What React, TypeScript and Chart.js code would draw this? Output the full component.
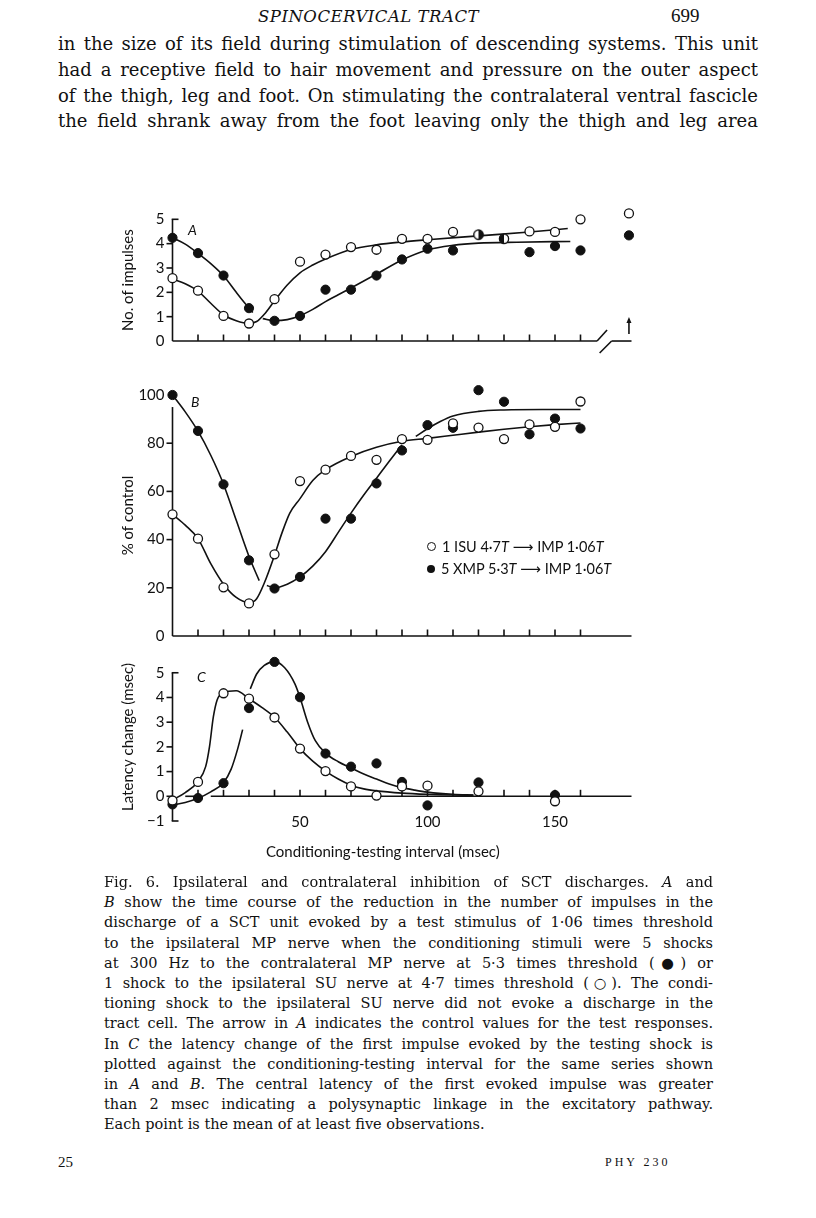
import React, { useEffect, useRef } from "react";
import { Chart, registerables } from "chart.js";

Chart.register(...registerables);

// ---------------- data ----------------
// conditioning-testing intervals (msec)
const intervalsAB = [0, 10, 20, 30, 40, 50, 60, 70, 80, 90, 100, 110, 120, 130, 140, 150, 160];
const controlInterval = [179];
const intervalsC = [0, 10, 20, 30, 40, 50, 60, 70, 80, 90, 100, 120, 150];
const axisTicks = [10, 20, 30, 40, 50, 60, 70, 80, 90, 100, 110, 120, 130, 140, 150, 160];
const cTickLabels = [50, 100, 150];

// Panel A: number of impulses
const impulsesXMP = [4.24, 3.61, 2.69, 1.35, 0.83, 1.03, 2.11, 2.11, 2.69, 3.35, 3.79, 3.72, 4.37, 4.2, 3.65, 3.9, 3.72];
const impulsesISU = [2.58, 2.07, 1.03, 0.72, 1.72, 3.26, 3.55, 3.86, 3.75, 4.2, 4.2, 4.48, 4.37, 4.2, 4.5, 4.48, 5.0];
const impulsesControlXMP = [4.34];
const impulsesControlISU = [5.24];
const overlapHalfRight = [120];
const overlapHalfLeft = [130];

// Panel B: % of control
const percentXMP = [100, 85.1, 62.9, 31.4, 19.7, 24.5, 48.7, 48.7, 63.3, 77.0, 87.5, 86.4, 102, 97.2, 83.7, 90.2, 86.1];
const percentISU = [50.5, 40.4, 20.2, 13.5, 33.9, 64.3, 69.0, 74.7, 73.1, 81.7, 81.4, 88.2, 86.5, 81.7, 87.8, 86.8, 97.3];

// Panel C: latency change (msec)
const latencyXMP = [-0.33, -0.07, 0.53, 3.57, 5.44, 4.01, 1.73, 1.2, 1.33, 0.58, -0.37, 0.56, 0.05];
const latencyISU = [-0.17, 0.58, 4.17, 3.95, 3.19, 1.93, 1.02, 0.4, 0.03, 0.4, 0.43, 0.2, -0.2];

// hand-drawn fitted curves: [interval, value]
const curveAXmpEarly = [[0, 4.24], [5, 3.98], [10, 3.6], [15, 3.18], [20, 2.68], [25, 2.0], [28, 1.6], [31.5, 1.17]];
const curveAXmpLate = [[35.4, 0.92], [40, 0.84], [45, 0.88], [50, 1.04], [55, 1.3], [60, 1.62], [65, 1.9], [70, 2.18], [80, 2.75], [90, 3.33], [100, 3.74], [110, 3.93], [120, 4.02], [135, 4.06], [156, 4.09]];
const curveAIsu = [[0, 2.55], [5, 2.35], [10, 2.05], [15, 1.55], [20, 1.08], [25, 0.83], [30, 0.72], [33, 0.8], [36, 1.1], [40, 1.65], [45, 2.3], [50, 2.8], [55, 3.12], [60, 3.37], [70, 3.76], [80, 3.95], [90, 4.07], [100, 4.16], [120, 4.32], [140, 4.48], [155, 4.62]];

const curveBXmpEarly = [[0, 100], [5, 93], [10, 85], [15, 75], [20, 63], [25, 48], [30, 33], [34, 23]];
const curveBXmpMid = [[37, 21], [40, 20], [45, 21.5], [50, 24.5], [55, 29], [60, 35], [65, 43], [70, 51], [75, 58.5], [80, 65.5], [85, 72.5], [90, 79.3]];
const curveBXmpLate = [[95.4, 82.8], [100, 86], [105, 89], [110, 91.3], [120, 93.2], [130, 93.8], [145, 94], [160, 94]];
const curveBIsu = [[0, 50.5], [5, 46], [10, 40.4], [15, 30], [20, 21.5], [25, 16], [30, 13.8], [33, 15.5], [36, 22], [40, 33.5], [43, 43], [46, 51], [50, 57], [55, 64.5], [60, 69], [70, 74.5], [80, 78.3], [90, 80.8], [100, 82], [110, 83.3], [120, 84.6], [130, 85.8], [140, 86.8], [150, 87.7], [160, 88.4]];

const curveCIsu = [[0, -0.15], [5, 0.15], [10, 0.6], [13, 1.2], [14.5, 2.0], [16, 3.2], [17.5, 3.9], [20, 4.2], [25, 4.27], [30, 3.95], [35, 3.6], [40, 3.2], [45, 2.6], [50, 1.93], [55, 1.42], [60, 1.02], [65, 0.7], [70, 0.45], [75, 0.3], [80, 0.22], [90, 0.13], [100, 0.08], [110, 0.05], [118, 0.04]];
const curveCXmpEarly = [[0, -0.35], [5, -0.25], [10, -0.08], [15, 0.18], [20, 0.55], [23, 1.1], [25.5, 1.9], [27.5, 2.7]];
const curveCXmpLate = [[30.5, 4.35], [33, 4.95], [36, 5.3], [40, 5.45], [44, 5.2], [48, 4.55], [50, 4.0], [53, 3.0], [56, 2.25], [60, 1.75], [65, 1.4], [70, 1.15], [75, 0.9], [80, 0.7], [85, 0.5], [90, 0.35], [95, 0.25], [100, 0.17], [110, 0.08], [118, 0.05]];

// ---------------- styling ----------------
const INK = "#111111";
const SANS = "Lato, 'Open Sans', sans-serif";
const SERIF = "'Liberation Serif', 'DejaVu Serif', serif";
const WIDE_SERIF = "'DejaVu Serif', 'Liberation Serif', serif";
const ORIGIN_X = 172.5;
const PX_PER_MS = 2.55;
const PAGE_W = 816;

Chart.defaults.font.family = SANS;
Chart.defaults.color = INK;

const toXY = (xs: number[], ys: number[]) => xs.map((x, i) => ({ x, y: ys[i] }));
const pairs = (p: number[][]) => p.map(([x, y]) => ({ x, y }));

const halfCache: Record<string, HTMLCanvasElement> = {};
function halfDot(side: "left" | "right") {
  if (halfCache[side]) return halfCache[side];
  const c = document.createElement("canvas");
  c.width = 12;
  c.height = 12;
  const g = c.getContext("2d")!;
  g.beginPath();
  g.arc(6, 6, 4.6, 0, Math.PI * 2);
  g.fillStyle = "#fff";
  g.fill();
  g.beginPath();
  if (side === "right") g.arc(6, 6, 4.6, -Math.PI / 2, Math.PI / 2);
  else g.arc(6, 6, 4.6, Math.PI / 2, (3 * Math.PI) / 2);
  g.closePath();
  g.fillStyle = INK;
  g.fill();
  g.beginPath();
  g.arc(6, 6, 4.6, 0, Math.PI * 2);
  g.lineWidth = 1.3;
  g.strokeStyle = INK;
  g.stroke();
  halfCache[side] = c;
  return c;
}

const openPts = (data: any[], extra: any = {}) => ({
  type: "scatter",
  data,
  order: 0,
  showLine: false,
  pointRadius: 4.5,
  pointBackgroundColor: "#fff",
  pointBorderColor: INK,
  pointBorderWidth: 1.3,
  clip: false,
  ...extra,
});
const filledPts = (data: any[]) => ({
  type: "scatter",
  data,
  order: 1,
  showLine: false,
  pointRadius: 4.6,
  pointBackgroundColor: INK,
  pointBorderColor: INK,
  pointBorderWidth: 1,
  clip: false,
});
const curve = (data: any[]) => ({
  type: "line",
  data,
  order: 2,
  borderColor: INK,
  borderWidth: 1.6,
  pointRadius: 0,
  cubicInterpolationMode: "monotone",
  fill: false,
  clip: false,
});

// axes drawn in the style of the printed figure, through the chart's own scales
const paperAxes = {
  id: "paperAxes",
  beforeDatasetsDraw(chart: any, _a: any, o: any) {
    if (!o || !o.yLine) return;
    const { ctx } = chart;
    const X = (v: number) => chart.scales.x.getPixelForValue(v);
    const Y = (v: number) => chart.scales.y.getPixelForValue(v);
    const seg = (x1: number, y1: number, x2: number, y2: number) => {
      ctx.beginPath();
      ctx.moveTo(x1, y1);
      ctx.lineTo(x2, y2);
      ctx.stroke();
    };
    ctx.save();
    ctx.strokeStyle = INK;
    ctx.fillStyle = INK;
    ctx.lineWidth = 1.6;
    const x0 = X(0);
    const y0 = Y(0);
    seg(x0, Y(o.yLine[0]), x0, Y(o.yLine[1]));
    (o.leftTicks || []).forEach((v: number) => seg(x0 - 6, Y(v), x0, Y(v)));
    (o.brackets || []).forEach((v: number) => seg(x0 - 0.8, Y(v), x0 + 6, Y(v)));
    (o.xSegments || []).forEach(([a, b]: number[]) => seg(X(a), y0, X(b), y0));
    (o.xTicks || []).forEach((v: number) => seg(X(v), y0, X(v), y0 - 6.5));
    if (o.breakFrom != null) {
      const bx = X(o.breakFrom);
      const ax = X(o.breakTo);
      seg(bx, y0, bx + 10, y0 - 11);
      seg(ax - 12, y0 + 12, ax, y0);
    }
    if (o.arrowAt != null) {
      const ax = X(o.arrowAt);
      seg(ax, y0 - 7, ax, y0 - 20);
      ctx.beginPath();
      ctx.moveTo(ax, y0 - 24);
      ctx.lineTo(ax - 2.5, y0 - 18);
      ctx.lineTo(ax + 2.5, y0 - 18);
      ctx.closePath();
      ctx.fill();
    }
    ctx.restore();
  },
};
Chart.register(paperAxes as any);

type Spec = {
  top: number; // canvas top on the page
  height: number; // canvas height
  zeroPx: number; // page y of value 0
  unitPx: number; // px per unit of y
  xMax: number;
  yMin: number;
  yMax: number;
  yStep: number;
  yTitle: string;
  datasets: any[];
  axes: any;
  xLabels?: number[];
  xTitle?: string;
};

function buildConfig(s: Spec): any {
  const areaRight = ORIGIN_X + s.xMax * PX_PER_MS;
  const areaTop = s.zeroPx - s.yMax * s.unitPx;
  const areaBottom = s.zeroPx - s.yMin * s.unitPx;
  const xScaleH = s.xLabels ? s.top + s.height - areaBottom : 0;
  return {
    type: "scatter",
    data: { datasets: s.datasets },
    options: {
      responsive: false,
      animation: false,
      events: [],
      layout: {
        padding: {
          left: 0,
          right: PAGE_W - areaRight,
          top: areaTop - s.top,
          bottom: s.xLabels ? 0 : s.top + s.height - areaBottom,
        },
      },
      plugins: {
        legend: { display: false },
        tooltip: { enabled: false },
        paperAxes: s.axes,
      },
      scales: {
        x: {
          type: "linear",
          min: 0,
          max: s.xMax,
          display: !!s.xLabels,
          afterFit: (sc: any) => {
            sc.height = xScaleH;
          },
          afterBuildTicks: (sc: any) => {
            if (s.xLabels) sc.ticks = s.xLabels.map((v) => ({ value: v }));
          },
          grid: { display: false, drawTicks: false },
          border: { display: false },
          ticks: { mirror: true, padding: -10, autoSkip: false, maxRotation: 0, font: { size: 15 }, color: INK },
          title: {
            display: !!s.xTitle,
            text: s.xTitle || "",
            color: INK,
            font: { size: 15 },
            padding: { top: 0, bottom: 9 },
          },
        },
        y: {
          type: "linear",
          min: s.yMin,
          max: s.yMax,
          afterFit: (sc: any) => {
            sc.width = ORIGIN_X;
          },
          grid: { display: false, drawTicks: false },
          border: { display: false },
          ticks: {
            stepSize: s.yStep,
            includeBounds: false,
            padding: 8,
            font: { size: 15 },
            color: INK,
            callback: (v: number) => (v < 0 ? "\u2212" + Math.abs(v) : String(v)),
          },
          title: {
            display: true,
            text: s.yTitle,
            color: INK,
            font: { size: 15 },
            padding: { top: 119, bottom: 0 },
          },
        },
      },
    },
  };
}

const panelA: Spec = {
  top: 195,
  height: 175,
  zeroPx: 341,
  unitPx: 24.4,
  xMax: 180,
  yMin: -0.3,
  yMax: 5.3,
  yStep: 1,
  yTitle: "No. of impulses",
  axes: {
    yLine: [0, 5],
    leftTicks: [1, 2, 3, 4],
    brackets: [5],
    xSegments: [[0, 166.5], [172.2, 180]],
    xTicks: axisTicks,
    breakFrom: 166.5,
    breakTo: 172.2,
    arrowAt: controlInterval[0],
  },
  datasets: [
    openPts(toXY(intervalsAB, impulsesISU), {
      pointStyle: (c: any) =>
        c.raw && overlapHalfRight.includes(c.raw.x)
          ? halfDot("right")
          : c.raw && overlapHalfLeft.includes(c.raw.x)
          ? halfDot("left")
          : "circle",
    }),
    openPts(toXY(controlInterval, impulsesControlISU)),
    filledPts(toXY(intervalsAB, impulsesXMP)),
    filledPts(toXY(controlInterval, impulsesControlXMP)),
    curve(pairs(curveAXmpEarly)),
    curve(pairs(curveAXmpLate)),
    curve(pairs(curveAIsu)),
  ],
};

const panelB: Spec = {
  top: 378,
  height: 275,
  zeroPx: 641,
  unitPx: 2.47,
  xMax: 180,
  yMin: 0,
  yMax: 100,
  yStep: 20,
  yTitle: "% of control",
  axes: {
    yLine: [0, 95],
    leftTicks: [20, 40, 60, 80],
    brackets: [],
    xSegments: [[0, 180]],
    xTicks: axisTicks,
  },
  datasets: [
    openPts(toXY(intervalsAB, percentISU)),
    filledPts(toXY(intervalsAB, percentXMP)),
    curve(pairs(curveBXmpEarly)),
    curve(pairs(curveBXmpMid)),
    curve(pairs(curveBXmpLate)),
    curve(pairs(curveBIsu)),
  ],
};

const panelC: Spec = {
  top: 636,
  height: 234,
  zeroPx: 795.5,
  unitPx: 25.5,
  xMax: 165,
  yMin: -1,
  yMax: 5.8,
  yStep: 1,
  yTitle: "Latency change (msec)",
  xLabels: cTickLabels,
  xTitle: "Conditioning-testing interval (msec)",
  axes: {
    yLine: [-1, 5],
    leftTicks: [0, 1, 2, 3, 4],
    brackets: [5, -1],
    xSegments: [[5, 9], [15, 180]],
    xTicks: axisTicks,
  },
  datasets: [
    openPts(toXY(intervalsC, latencyISU)),
    filledPts(toXY(intervalsC, latencyXMP)),
    curve(pairs(curveCIsu)),
    curve(pairs(curveCXmpEarly)),
    curve(pairs(curveCXmpLate)),
  ],
};

function Panel({ spec }: { spec: Spec }) {
  const ref = useRef<HTMLCanvasElement>(null);
  useEffect(() => {
    const chart = new Chart(ref.current as HTMLCanvasElement, buildConfig(spec));
    return () => chart.destroy();
  }, [spec]);
  return (
    <canvas
      ref={ref}
      width={PAGE_W}
      height={spec.height}
      style={{ position: "absolute", left: 0, top: spec.top, width: PAGE_W, height: spec.height }}
    />
  );
}

// ---------------- page text ----------------
const bodyLines = [
  "in the size of its field during stimulation of descending systems. This unit",
  "had a receptive field to hair movement and pressure on the outer aspect",
  "of the thigh, leg and foot. On stimulating the contralateral ventral fascicle",
  "the field shrank away from the foot leaving only the thigh and leg area",
];

const I = ({ children }: any) => <i>{children}</i>;
const captionLines: any[] = [
  <>Fig. 6. Ipsilateral and contralateral inhibition of SCT discharges. <I>A</I> and</>,
  <><I>B</I> show the time course of the reduction in the number of impulses in the</>,
  <>discharge of a SCT unit evoked by a test stimulus of 1·06 times threshold</>,
  <>to the ipsilateral MP nerve when the conditioning stimuli were 5 shocks</>,
  <>at 300 Hz to the contralateral MP nerve at 5·3 times threshold (●) or</>,
  <>1 shock to the ipsilateral SU nerve at 4·7 times threshold (○). The condi-</>,
  <>tioning shock to the ipsilateral SU nerve did not evoke a discharge in the</>,
  <>tract cell. The arrow in <I>A</I> indicates the control values for the test responses.</>,
  <>In <I>C</I> the latency change of the first impulse evoked by the testing shock is</>,
  <>plotted against the conditioning-testing interval for the same series shown</>,
  <>in <I>A</I> and <I>B</I>. The central latency of the first evoked impulse was greater</>,
  <>than 2 msec indicating a polysynaptic linkage in the excitatory pathway.</>,
  <>Each point is the mean of at least five observations.</>,
];

function TextLine({ cy, left, width, size, lh, last, family, children }: any) {
  return (
    <div
      style={{
        position: "absolute",
        top: cy - lh / 2,
        left,
        width,
        fontFamily: family || SERIF,
        fontSize: size,
        lineHeight: `${lh}px`,
        height: lh,
        overflow: "visible",
        textAlign: last ? "left" : "justify",
        textAlignLast: last ? "left" : "justify",
        color: INK,
      } as any}
    >
      {children}
    </div>
  );
}

const abs = (left: number, top: number, extra: any = {}) => ({ position: "absolute", left, top, ...extra } as any);

function Dot({ filled }: { filled: boolean }) {
  return (
    <span
      style={{
        display: "inline-block",
        width: filled ? 8 : 7,
        height: filled ? 8 : 7,
        borderRadius: "50%",
        border: filled ? "none" : `1.2px solid ${INK}`,
        background: filled ? INK : "#fff",
        marginRight: 6,
        verticalAlign: "1px",
      }}
    />
  );
}

export default function App() {
  return (
    <div style={{ position: "absolute", left: 0, top: 0, width: PAGE_W, height: 1218, background: "#fff", overflow: "hidden", color: INK }}>
      <div style={abs(258, 5, { fontFamily: WIDE_SERIF, fontStyle: "italic", fontSize: 16.5, lineHeight: "24px", letterSpacing: 0.5 })}>
        SPINOCERVICAL TRACT
      </div>
      <div style={abs(671, 4, { fontFamily: SERIF, fontSize: 19, lineHeight: "24px" })}>699</div>

      {bodyLines.map((t, i) => (
        <TextLine key={i} cy={44 + i * 25.8} left={58} width={700} size={18} lh={24} family={WIDE_SERIF}>
          {t}
        </TextLine>
      ))}

      <Panel spec={panelA} />
      <Panel spec={panelB} />
      <Panel spec={panelC} />

      <div style={abs(188, 221, { fontFamily: SANS, fontStyle: "italic", fontSize: 14, lineHeight: "18px" })}>A</div>
      <div style={abs(191, 393, { fontFamily: SANS, fontStyle: "italic", fontSize: 14, lineHeight: "18px" })}>B</div>
      <div style={abs(197, 668, { fontFamily: SANS, fontStyle: "italic", fontSize: 14, lineHeight: "18px" })}>C</div>

      <div style={abs(427, 536, { fontFamily: SANS, fontSize: 14.5, lineHeight: "22px", whiteSpace: "nowrap" })}>
        <div>
          <Dot filled={false} />1 ISU 4·7<i>T</i> <span style={{ fontFamily: "'DejaVu Sans'" }}>⟶</span> IMP 1·06<i>T</i>
        </div>
        <div>
          <Dot filled={true} />5 XMP 5·3<i>T</i> <span style={{ fontFamily: "'DejaVu Sans'" }}>⟶</span> IMP 1·06<i>T</i>
        </div>
      </div>

      {captionLines.map((t, i) => (
        <TextLine key={i} cy={882 + i * 20.2} left={104} width={609} size={14.5} lh={20} family={WIDE_SERIF} last={i === captionLines.length - 1}>
          {t}
        </TextLine>
      ))}

      <div style={abs(58, 1152, { fontFamily: SERIF, fontSize: 15, lineHeight: "20px" })}>25</div>
      <div style={abs(605, 1152, { fontFamily: SERIF, fontSize: 12, lineHeight: "20px", letterSpacing: 3 })}>PHY 230</div>
    </div>
  );
}
